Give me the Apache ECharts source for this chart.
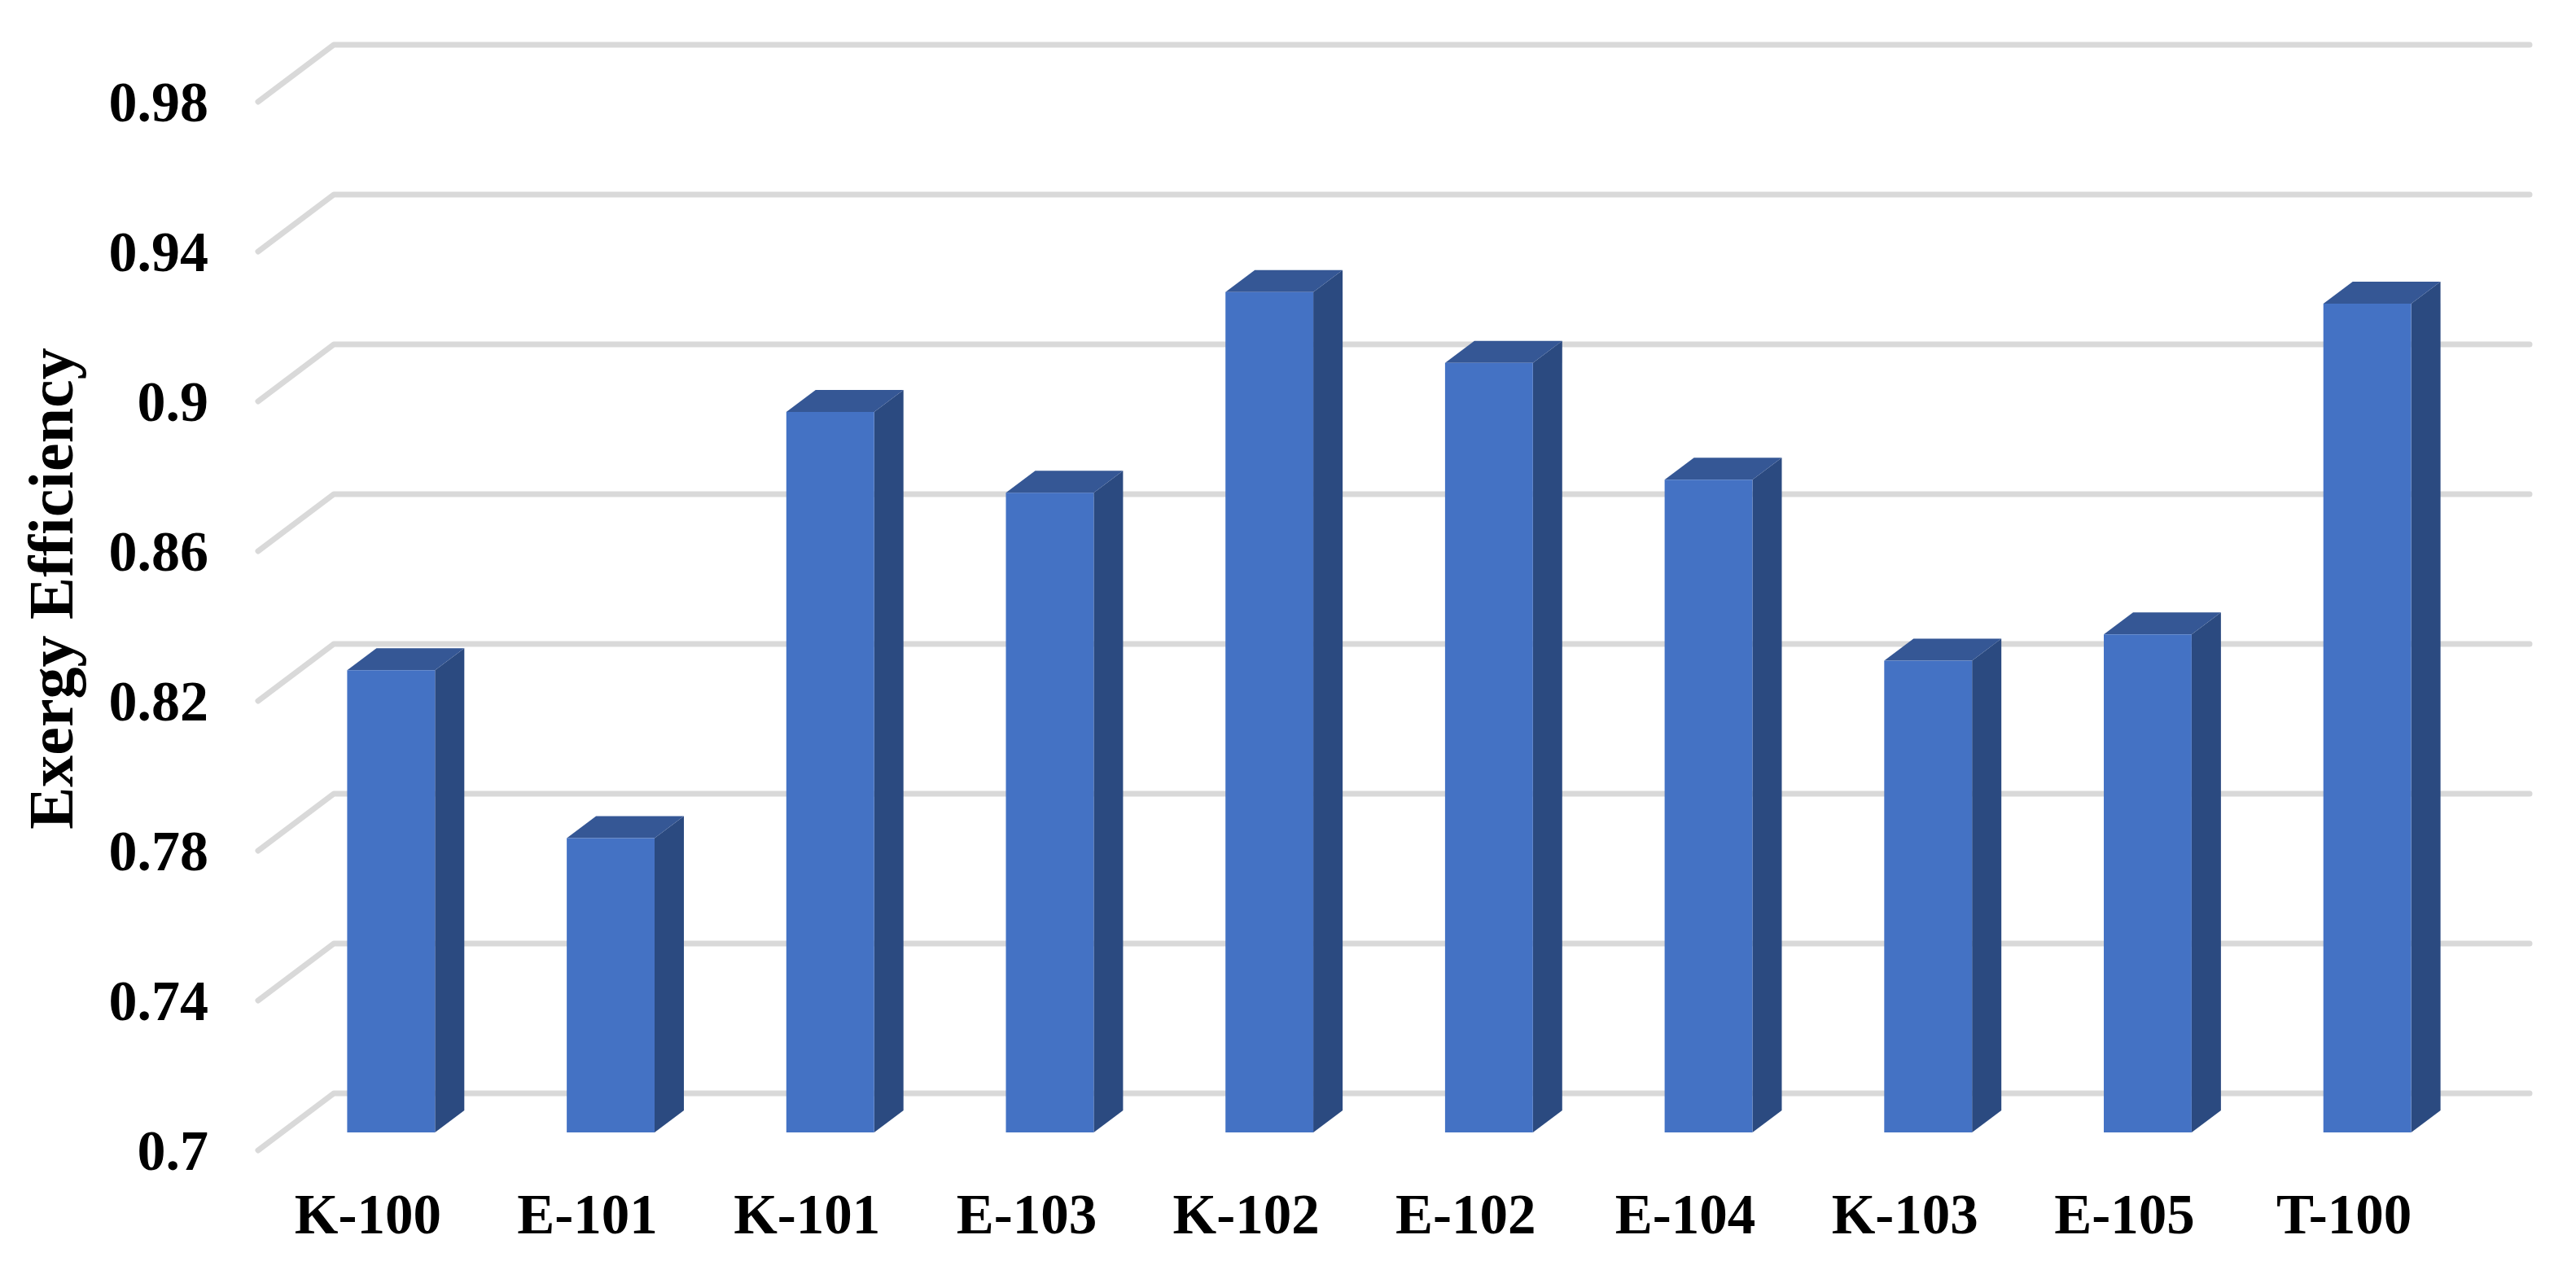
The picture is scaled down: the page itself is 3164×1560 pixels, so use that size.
<!DOCTYPE html>
<html>
<head>
<meta charset="utf-8">
<style>html,body{margin:0;padding:0;background:#fff}#c{width:3164px;height:1560px}</style>
<script src="https://cdn.jsdelivr.net/npm/echarts@6/dist/echarts.min.js"></script>
</head>
<body>
<div id="c"></div>
<script>
const categories = ['K-100','E-101','K-101','E-103','K-102','E-102','E-104','K-103','E-105','T-100'];
const efficiency = [0.8234,0.7786,0.8924,0.8708,0.9244,0.9055,0.8743,0.826,0.833,0.9213];
const yTicks = [0.7,0.74,0.78,0.82,0.86,0.9,0.94,0.98];

const FONT = '"Liberation Serif","Times New Roman",serif';
const WALL_DX = 93, WALL_DY = 70, BAR_DX = 36, BAR_DY = 27, BAR_RATIO = 0.4;
const SHIFT_X = (WALL_DX - BAR_DX) / 2, SHIFT_Y = (71 - BAR_DY) / 2;

function renderGridLine(params, api) {
  const cs = params.coordSys;
  const y = api.coord([0, api.value(1)])[1];
  return {
    type: 'polyline',
    shape: { points: [[cs.x, y], [cs.x + WALL_DX, y - WALL_DY], [cs.x + cs.width + WALL_DX, y - WALL_DY]] },
    style: { stroke: '#d9d9d9', lineWidth: 7, fill: null, lineCap: 'round', lineJoin: 'round' },
    silent: true
  };
}

function renderBar(params, api) {
  const idx = api.value(0);
  const top = api.coord([idx, api.value(1)]);
  const base = api.coord([idx, yTicks[0]]);
  const w = api.size([1, 0])[0] * BAR_RATIO;
  const x0 = top[0] + SHIFT_X - w / 2, x1 = x0 + w;
  const yt = top[1] - SHIFT_Y, yb = base[1] - SHIFT_Y;
  return {
    type: 'group',
    children: [
      { type: 'polygon', shape: { points: [[x1, yt], [x1 + BAR_DX, yt - BAR_DY], [x1 + BAR_DX, yb - BAR_DY], [x1, yb]] },
        style: { fill: '#2b4a80' } },
      { type: 'polygon', shape: { points: [[x0, yt], [x0 + BAR_DX, yt - BAR_DY], [x1 + BAR_DX, yt - BAR_DY], [x1, yt]] },
        style: { fill: '#355795' } },
      { type: 'rect', shape: { x: x0, y: yt, width: w, height: yb - yt },
        style: { fill: '#4472c4' } }
    ]
  };
}

const chart = echarts.init(document.getElementById('c'), null, { renderer: 'canvas' });
chart.setOption({
  animation: false,
  backgroundColor: '#ffffff',
  grid: { left: 317, right: 150, top: 125, bottom: 147, outerBoundsMode: 'none' },
  xAxis: {
    type: 'category',
    data: categories,
    axisLine: { show: false },
    axisTick: { show: false },
    splitLine: { show: false },
    axisLabel: { color: '#000', fontFamily: FONT, fontWeight: 'bold', fontSize: 69, margin: 50, interval: 0 }
  },
  yAxis: {
    type: 'value',
    min: 0.7,
    max: 0.98,
    name: 'Exergy Efficiency',
    nameLocation: 'middle',
    nameRotate: 90,
    nameGap: 209,
    nameTextStyle: { color: '#000', fontFamily: FONT, fontWeight: 'bold', fontSize: 78, padding: [0, 0, 0, 92] },
    axisLine: { show: false },
    axisTick: { show: false },
    splitLine: { show: false },
    axisLabel: { color: '#000', fontFamily: FONT, fontWeight: 'bold', fontSize: 70, margin: 61, verticalAlign: 'top', lineHeight: 12, customValues: yTicks }
  },
  series: [
    { type: 'custom', name: 'grid', z: 1, silent: true, renderItem: renderGridLine,
      data: yTicks.map(function (t) { return [0, t]; }), encode: { x: 0, y: 1 } },
    { type: 'custom', name: 'Exergy Efficiency', z: 2, renderItem: renderBar,
      data: efficiency.map(function (v, i) { return [i, v]; }), encode: { x: 0, y: 1 } }
  ]
});
</script>
</body>
</html>
